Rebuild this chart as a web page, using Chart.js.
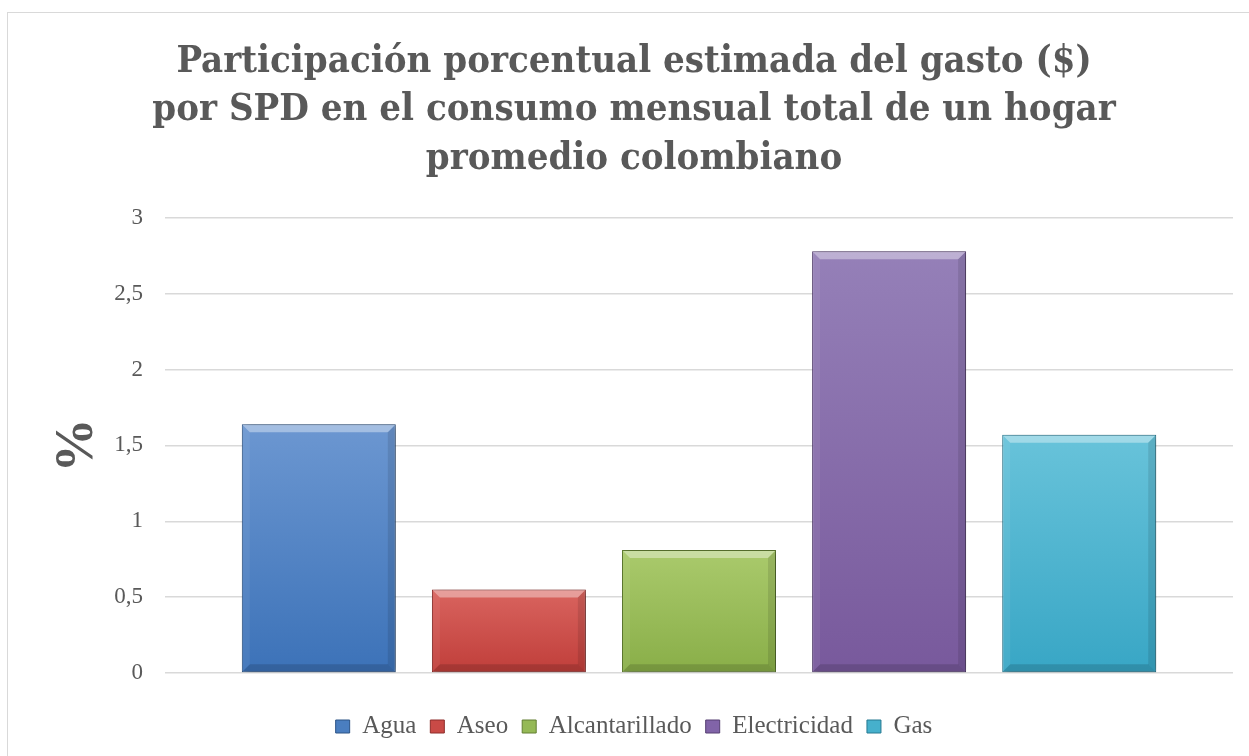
<!DOCTYPE html>
<html>
<head>
<meta charset="utf-8">
<script src="https://cdn.jsdelivr.net/npm/chart.js@4.4.1/dist/chart.umd.min.js"></script>
<style>
html, body { margin: 0; padding: 0; background: #fff; overflow: hidden; }
#frame { position: absolute; left: 7px; top: 12px; width: 1254px; height: 760px; border: 1px solid #d9d9d9; }
#myChart { position: absolute; left: 0; top: 0; }
</style>
</head>
<body>
<div id="frame"><canvas id="myChart" width="1254" height="750"></canvas></div>
<script>
// data
var categories = ['Agua', 'Aseo', 'Alcantarillado', 'Electricidad', 'Gas'];
var values = [1.64, 0.55, 0.81, 2.78, 1.57];
var yTicks = [0, 0.5, 1, 1.5, 2, 2.5, 3];
var titleLines = [
    'Participación porcentual estimada del gasto ($)',
    'por SPD en el consumo mensual total de un hogar',
    'promedio colombiano'
];
var yTitle = '%';

// colours per category
var topColors = ['#6c97d1', '#d9645f', '#aaca6c', '#9580b8', '#68c3da'];
var bottomColors = ['#3c72b8', '#c03e3a', '#89ae48', '#78599c', '#38a6c5'];
var edgeColors = ['#2d5486', '#8e2d2a', '#627f33', '#563f72', '#267a92'];
var legendColors = ['#4a7ec0', '#c94a46', '#95b956', '#8164a8', '#46b0cc'];

var fontFamily = "'Liberation Serif', 'Times New Roman', serif";
var titleFamily = "'DejaVu Serif Condensed', 'Liberation Serif', serif";
var textColor = '#595959';

function barGradient(i) {
    return function (context) {
        var chart = context.chart;
        var y = chart.scales.y;
        if (!chart.chartArea || !y || context.parsed === undefined) return legendColors[i];
        var top = y.getPixelForValue(context.parsed.y);
        var bottom = y.getPixelForValue(0);
        var g = chart.ctx.createLinearGradient(0, top, 0, bottom);
        g.addColorStop(0, topColors[i]);
        g.addColorStop(1, bottomColors[i]);
        return g;
    };
}

var datasets = [];
for (var i = 0; i < categories.length; i++) {
    datasets.push({
        label: categories[i],
        data: [values[i]],
        backgroundColor: barGradient(i),
        borderColor: edgeColors[i],
        borderWidth: 1,
        borderSkipped: false
    });
}

// soft shadow + bevel look on the bars
var bevelPlugin = {
    id: 'bevel',
    beforeDatasetsDraw: function (chart) {
        var ctx = chart.ctx;
        ctx.save();
        ctx.shadowColor = 'rgba(0,0,0,0.4)';
        ctx.shadowBlur = 8;
        ctx.shadowOffsetX = 3;
        ctx.shadowOffsetY = 1;
    },
    afterDatasetsDraw: function (chart) {
        var ctx = chart.ctx;
        ctx.restore();
        var b = 7;
        chart.data.datasets.forEach(function (ds, di) {
            var meta = chart.getDatasetMeta(di);
            if (meta.hidden) return;
            meta.data.forEach(function (el) {
                var l = el.x - el.width / 2 + 1, r = el.x + el.width / 2 - 1;
                var t = el.y + 1, bt = el.base - 1;
                function quad(pts, col) {
                    ctx.beginPath();
                    ctx.moveTo(pts[0][0], pts[0][1]);
                    for (var k = 1; k < pts.length; k++) ctx.lineTo(pts[k][0], pts[k][1]);
                    ctx.closePath();
                    ctx.fillStyle = col;
                    ctx.fill();
                }
                quad([[l, t], [r, t], [r - b, t + b], [l + b, t + b]], 'rgba(255,255,255,0.38)');
                quad([[l, bt], [r, bt], [r - b, bt - b], [l + b, bt - b]], 'rgba(0,0,0,0.14)');
                quad([[l, t], [l + b, t + b], [l + b, bt - b], [l, bt]], 'rgba(255,255,255,0.06)');
                quad([[r, t], [r - b, t + b], [r - b, bt - b], [r, bt]], 'rgba(0,0,0,0.10)');
            });
        });
    }
};

var ctx = document.getElementById('myChart').getContext('2d');
var myChart = new Chart(ctx, {
    type: 'bar',
    data: {
        labels: [''],
        datasets: datasets
    },
    options: {
        responsive: false,
        animation: false,
        devicePixelRatio: 1,
        categoryPercentage: 0.89,
        barPercentage: 0.81,
        layout: { padding: { left: 27, right: 29, top: 0, bottom: 14 } },
        scales: {
            x: {
                display: true,
                grid: { display: false },
                border: { display: false },
                ticks: { display: false },
                afterFit: function (s) { s.height = 27; }
            },
            y: {
                min: 0,
                max: 3,
                afterBuildTicks: function (s) {
                    s.ticks = yTicks.map(function (v) { return { value: v }; });
                },
                grid: { color: '#d9d9d9', lineWidth: 1.5, drawTicks: false },
                border: { display: false },
                ticks: {
                    padding: 22,
                    color: textColor,
                    font: { family: fontFamily, size: 23 },
                    callback: function (v) { return String(v).replace('.', ','); }
                },
                title: {
                    display: true,
                    text: yTitle,
                    color: textColor,
                    font: { family: fontFamily, size: 54, weight: 'bold', lineHeight: 1 },
                    padding: { top: 16, bottom: 0 }
                },
                afterFit: function (s) { s.width = 130; }
            }
        },
        plugins: {
            title: {
                display: true,
                text: titleLines,
                color: textColor,
                font: { family: titleFamily, size: 38, weight: 'bold', lineHeight: 1.27 },
                padding: { top: 25, bottom: 35 }
            },
            legend: {
                position: 'bottom',
                labels: {
                    boxWidth: 14,
                    boxHeight: 13,
                    padding: 14,
                    color: textColor,
                    font: { family: fontFamily, size: 25 },
                    generateLabels: function (chart) {
                        return categories.map(function (c, i) {
                            return {
                                text: c,
                                fillStyle: legendColors[i],
                                strokeStyle: edgeColors[i],
                                lineWidth: 1,
                                fontColor: textColor,
                                hidden: !chart.isDatasetVisible(i),
                                datasetIndex: i
                            };
                        });
                    }
                }
            },
            tooltip: { enabled: false }
        }
    },
    plugins: [bevelPlugin]
});
</script>
</body>
</html>
